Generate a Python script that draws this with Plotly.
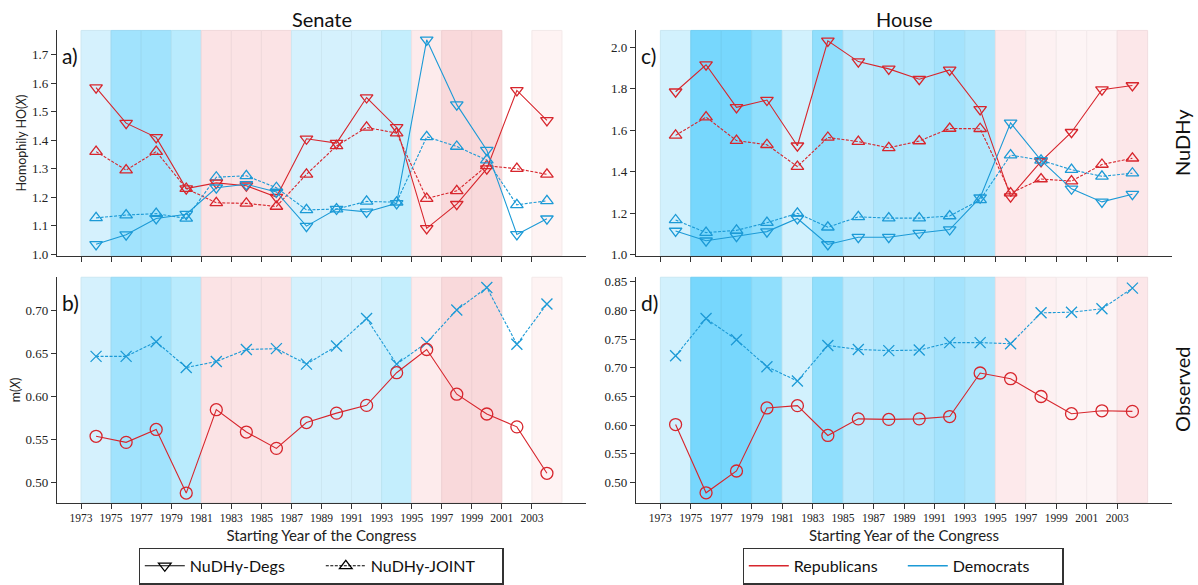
import plotly.graph_objects as go

# ---------------- data ----------------
years = [1974, 1976, 1978, 1980, 1982, 1984, 1986, 1988, 1990, 1992, 1994, 1996, 1998, 2000, 2002, 2004]
congress_starts = [1973, 1975, 1977, 1979, 1981, 1983, 1985, 1987, 1989, 1991, 1993, 1995, 1997, 1999, 2001, 2003]
xtick_vals = congress_starts
xtick_text = [str(v) for v in congress_starts]

senate_rep_degs = [1.585, 1.46, 1.41, 1.23, 1.25, 1.24, 1.20, 1.405, 1.39, 1.55, 1.445, 1.09, 1.175, 1.30, 1.575, 1.47]
senate_rep_joint = [1.36, 1.295, 1.36, 1.23, 1.18, 1.178, 1.167, 1.28, 1.38, 1.445, 1.425, 1.195, 1.222, 1.31, 1.30, 1.28]
senate_dem_degs = [1.034, 1.068, 1.125, 1.14, 1.233, 1.245, 1.218, 1.098, 1.158, 1.148, 1.178, 1.753, 1.525, 1.365, 1.069, 1.124]
senate_dem_joint = [1.127, 1.137, 1.142, 1.125, 1.27, 1.275, 1.233, 1.155, 1.158, 1.185, 1.182, 1.412, 1.378, 1.33, 1.173, 1.187]

house_rep_degs = [1.785, 1.915, 1.71, 1.745, 1.525, 2.03, 1.93, 1.895, 1.845, 1.89, 1.70, 1.28, 1.45, 1.59, 1.795, 1.815]
house_rep_joint = [1.575, 1.663, 1.55, 1.53, 1.425, 1.565, 1.545, 1.515, 1.548, 1.608, 1.607, 1.297, 1.365, 1.355, 1.435, 1.465]
house_dem_degs = [1.115, 1.068, 1.09, 1.112, 1.175, 1.05, 1.085, 1.085, 1.105, 1.122, 1.275, 1.635, 1.455, 1.318, 1.255, 1.292]
house_dem_joint = [1.168, 1.107, 1.118, 1.155, 1.2, 1.133, 1.183, 1.177, 1.177, 1.187, 1.265, 1.48, 1.455, 1.41, 1.378, 1.393]

senate_rep_obs = [0.554, 0.547, 0.562, 0.488, 0.585, 0.559, 0.540, 0.570, 0.581, 0.590, 0.628, 0.655, 0.603, 0.580, 0.565, 0.511]
senate_dem_obs = [0.647, 0.647, 0.664, 0.634, 0.641, 0.655, 0.656, 0.638, 0.659, 0.691, 0.638, 0.663, 0.701, 0.727, 0.661, 0.708]
house_rep_obs = [0.601, 0.482, 0.520, 0.630, 0.634, 0.582, 0.611, 0.610, 0.611, 0.615, 0.691, 0.681, 0.650, 0.620, 0.625, 0.624]
house_dem_obs = [0.721, 0.786, 0.749, 0.702, 0.677, 0.739, 0.732, 0.730, 0.731, 0.744, 0.744, 0.742, 0.796, 0.797, 0.803, 0.839]

senate_band_colors = ["#d5f1fd", "#a1e3fd", "#a1e3fd", "#b9ebfd", "#fbe3e5", "#fbe3e5", "#fbe3e5", "#d5f1fd",
                      "#d5f1fd", "#d5f1fd", "#c4eefd", "#fdebec", "#f9d9db", "#f9d9db", "#ffffff", "#fef3f3"]
house_band_colors = ["#d2f1fd", "#77d7fd", "#77d7fd", "#90dffd", "#d2f1fd", "#90dffd", "#bdeafd", "#b0e7fd",
                     "#b0e7fd", "#a4e3fd", "#b0e7fd", "#fde9eb", "#fdf1f2", "#fdf4f5", "#fdf4f5", "#fce7e9"]

RED = "#d7262d"
BLUE = "#1c9ad6"
SANS = "Lato, 'Open Sans', sans-serif"
SERIF = "'Liberation Serif', 'DejaVu Serif', serif"

W, H = 1198, 585
def px_x(p):
    return p / W
def px_y(p):
    return 1 - p / H

left_dom = [px_x(57), px_x(586)]
right_dom = [px_x(636), px_x(1172)]
top_dom = [px_y(258), px_y(28)]
bot_dom = [px_y(510), px_y(280)]

fig = go.Figure()

panels = {
    "a": ("x", "y", senate_band_colors),
    "c": ("x2", "y2", house_band_colors),
    "b": ("x3", "y3", senate_band_colors),
    "d": ("x4", "y4", house_band_colors),
}

def darker(hexc, f=0.96):
    r, g, b = int(hexc[1:3], 16), int(hexc[3:5], 16), int(hexc[5:7], 16)
    return "rgb(%d,%d,%d)" % (r * f, g * f, b * f)

shapes = []
for key, (xa, ya, cols) in panels.items():
    for start, c in zip(congress_starts, cols):
        if c.lower() == "#ffffff":
            continue
        shapes.append(dict(type="rect", xref=xa, yref=ya + " domain", x0=start, x1=start + 2, y0=0, y1=1,
                           fillcolor=c, line=dict(color=darker(c), width=1), layer="below"))

def add_line(xa, ya, yvals, color, symbol, dash, size=11):
    fig.add_trace(go.Scatter(
        x=years, y=yvals, xaxis=xa, yaxis=ya, mode="lines+markers",
        line=dict(color=color, width=1.1, dash=dash),
        marker=dict(symbol=symbol, size=size, color=color, line=dict(color=color, width=1.3)),
        showlegend=False, hoverinfo="skip"))

DASH = "3px,1.5px"
add_line("x", "y", senate_rep_joint, RED, "triangle-up-open", DASH)
add_line("x", "y", senate_dem_joint, BLUE, "triangle-up-open", DASH)
add_line("x", "y", senate_rep_degs, RED, "triangle-down-open", "solid")
add_line("x", "y", senate_dem_degs, BLUE, "triangle-down-open", "solid")
add_line("x2", "y2", house_rep_joint, RED, "triangle-up-open", DASH)
add_line("x2", "y2", house_dem_joint, BLUE, "triangle-up-open", DASH)
add_line("x2", "y2", house_rep_degs, RED, "triangle-down-open", "solid")
add_line("x2", "y2", house_dem_degs, BLUE, "triangle-down-open", "solid")
add_line("x3", "y3", senate_dem_obs, BLUE, "x-thin-open", DASH, 11)
add_line("x3", "y3", senate_rep_obs, RED, "circle-open", "solid", 12)
add_line("x4", "y4", house_dem_obs, BLUE, "x-thin-open", DASH, 11)
add_line("x4", "y4", house_rep_obs, RED, "circle-open", "solid", 12)

# legend entries
fig.add_trace(go.Scatter(x=[None], y=[None], mode="lines+markers", name="NuDHy-Degs", legend="legend",
                         line=dict(color="black", width=1.1),
                         marker=dict(symbol="triangle-down-open", size=11, color="black", line=dict(width=1.3))))
fig.add_trace(go.Scatter(x=[None], y=[None], mode="lines+markers", name="NuDHy-JOINT", legend="legend",
                         line=dict(color="black", width=1.1, dash=DASH),
                         marker=dict(symbol="triangle-up-open", size=11, color="black", line=dict(width=1.3))))
fig.add_trace(go.Scatter(x=[None], y=[None], mode="lines", name="Republicans", legend="legend2",
                         line=dict(color=RED, width=1.5)))
fig.add_trace(go.Scatter(x=[None], y=[None], mode="lines", name="Democrats", legend="legend2",
                         line=dict(color=BLUE, width=1.5)))

xrange = [1971.4, 2006.6]
def xaxis(dom, anchor, show_labels, title=None):
    d = dict(domain=dom, anchor=anchor, range=xrange, tickmode="array", tickvals=xtick_vals,
             ticktext=xtick_text if show_labels else [""] * len(xtick_vals),
             showticklabels=show_labels, ticks="outside", ticklen=5, tickwidth=1, tickcolor="#333",
             showline=True, linecolor="#333", linewidth=1.3, showgrid=False, zeroline=False,
             tickfont=dict(family=SERIF, size=11.5, color="#222"))
    if title:
        d["title"] = dict(text=title, font=dict(family=SANS, size=15, color="#222"), standoff=7)
    return d

def yaxis(dom, anchor, rng, tvals, fmt, title=None):
    d = dict(domain=dom, anchor=anchor, range=rng, tickmode="array", tickvals=tvals,
             ticktext=[fmt % v for v in tvals], ticks="outside", ticklen=5, tickwidth=1, tickcolor="#333",
             showline=True, linecolor="#333", linewidth=1.3, showgrid=False, zeroline=False,
             tickfont=dict(family=SERIF, size=13, color="#222"))
    if title:
        d["title"] = dict(text=title, font=dict(family=SANS, size=12.5, color="#222"), standoff=2)
    return d

yt_a = [1.0, 1.1, 1.2, 1.3, 1.4, 1.5, 1.6, 1.7]
yt_c = [1.0, 1.2, 1.4, 1.6, 1.8, 2.0]
yt_b = [0.50, 0.55, 0.60, 0.65, 0.70]
yt_d = [0.50, 0.55, 0.60, 0.65, 0.70, 0.75, 0.80, 0.85]

annotations = []
for key, xa in [("a", "x"), ("c", "x2"), ("b", "x3"), ("d", "x4")]:
    ya = xa.replace("x", "y")
    annotations.append(dict(text=key + ")", xref=xa + " domain", yref=ya + " domain", x=0.006, y=0.89,
                            xanchor="left", yanchor="middle", showarrow=False,
                            font=dict(family=SANS, size=21, color="#111")))
annotations += [
    dict(text="Senate", xref="paper", yref="paper", x=(left_dom[0] + left_dom[1]) / 2, y=px_y(16),
         xanchor="center", yanchor="middle", showarrow=False, font=dict(family=SANS, size=20, color="#111")),
    dict(text="House", xref="paper", yref="paper", x=(right_dom[0] + right_dom[1]) / 2, y=px_y(16),
         xanchor="center", yanchor="middle", showarrow=False, font=dict(family=SANS, size=20, color="#111")),
    dict(text="NuDHy", xref="paper", yref="paper", x=px_x(1182), y=(top_dom[0] + top_dom[1]) / 2,
         xanchor="center", yanchor="middle", textangle=-90, showarrow=False,
         font=dict(family=SANS, size=20, color="#111")),
    dict(text="Observed", xref="paper", yref="paper", x=px_x(1182), y=(bot_dom[0] + bot_dom[1]) / 2,
         xanchor="center", yanchor="middle", textangle=-90, showarrow=False,
         font=dict(family=SANS, size=20, color="#111")),
]

fig.update_layout(
    width=W, height=H,
    margin=dict(l=0, r=0, t=0, b=0),
    paper_bgcolor="white", plot_bgcolor="white",
    xaxis=xaxis(left_dom, "y", False),
    xaxis2=xaxis(right_dom, "y2", False),
    xaxis3=xaxis(left_dom, "y3", True, "Starting Year of the Congress"),
    xaxis4=xaxis(right_dom, "y4", True, "Starting Year of the Congress"),
    yaxis=yaxis(top_dom, "x", [0.994, 1.786], yt_a, "%.1f", "Homophily HO(<i>X</i>)"),
    yaxis2=yaxis(top_dom, "x2", [0.996, 2.08], yt_c, "%.1f"),
    yaxis3=yaxis(bot_dom, "x3", [0.477, 0.739], yt_b, "%.2f", "m(<i>X</i>)"),
    yaxis4=yaxis(bot_dom, "x4", [0.465, 0.858], yt_d, "%.2f"),
    shapes=shapes,
    annotations=annotations,
    legend=dict(orientation="h", x=px_x(321), xanchor="center", y=px_y(556), yanchor="top",
                bordercolor="#333", borderwidth=1.3, bgcolor="white",
                font=dict(family=SANS, size=16, color="#111"), itemwidth=40, entrywidth=126),
    legend2=dict(orientation="h", x=px_x(903), xanchor="center", y=px_y(556), yanchor="top",
                 bordercolor="#333", borderwidth=1.3, bgcolor="white",
                 font=dict(family=SANS, size=16, color="#111"), itemwidth=40, entrywidth=104),
)

fig.write_html("out.html", config={"displayModeBar": False},
               post_script="document.body.style.margin='0';document.body.style.padding='0';"
                           "document.body.style.overflow='hidden';")
